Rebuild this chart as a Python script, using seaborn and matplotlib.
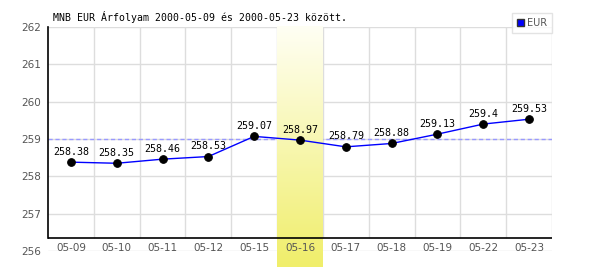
import numpy as np
import matplotlib
matplotlib.use("Agg")
import matplotlib.pyplot as plt
import seaborn as sns
from matplotlib.patches import Patch
from matplotlib.colors import LinearSegmentedColormap

dates = ["05-09", "05-10", "05-11", "05-12", "05-15", "05-16",
         "05-17", "05-18", "05-19", "05-22", "05-23"]
rates = [258.38, 258.35, 258.46, 258.53, 259.07, 258.97,
         258.79, 258.88, 259.13, 259.4, 259.53]
yticks = [256, 257, 258, 259, 260, 261, 262]
title = "MNB EUR Árfolyam 2000-05-09 és 2000-05-23 között."
highlight = "05-16"
ref_level = 259
series_name = "EUR"

sns.set_style("white")
fig = plt.figure(figsize=(6, 2.7), dpi=100)
ax = fig.add_axes([48/600, 1-251/270, 504/600, 224/270])
ax.set_axisbelow(False)
n = len(dates)
xs = np.arange(n)
axis_y = 256.35

grid_c = "#dddddd"
for v in yticks:
    ax.axhline(v, color=grid_c, lw=1, zorder=1)
ax.vlines(np.arange(n) + 0.5, axis_y, 262, color=grid_c, lw=1, zorder=1)

# highlight band
hi = dates.index(highlight)
cmap = LinearSegmentedColormap.from_list("hl", ["#fffff4", "#f0ee6a"])
grad = np.linspace(0, 1, 256).reshape(-1, 1)
ax.imshow(grad, cmap=cmap, aspect="auto", origin="upper",
          extent=(hi - 0.5, hi + 0.5, 255.57, 262), zorder=1.5, clip_on=False)
ax.set_xlim(-0.5, n - 0.5)
ax.set_ylim(256, 262)

ax.axhline(ref_level, color="#9999ff", lw=1, ls=(0, (3, 2)), zorder=1.2)
ax.axhline(axis_y, color="black", lw=1.2, zorder=4)

sns.lineplot(x=xs, y=rates, ax=ax, color="#0000ff", lw=1, zorder=5,
             marker="o", markersize=5.5, markerfacecolor="black",
             markeredgecolor="black")

for x, v in zip(xs, rates):
    ax.annotate(f"{v:g}", (x, v), xytext=(0, 4), textcoords="offset points",
                ha="center", va="bottom", fontsize=7.2,
                family="DejaVu Sans Mono", color="black", zorder=6)

for s in ["top", "right", "bottom"]:
    ax.spines[s].set_visible(False)
ax.spines["left"].set_color("black")
ax.spines["left"].set_linewidth(1.2)
ax.spines["left"].set_bounds(axis_y, 262)

ax.set_yticks(yticks)
ax.set_yticklabels([str(t) for t in yticks])
ax.set_xticks(xs)
ax.set_xticklabels(dates)
ax.tick_params(axis="y", length=0, pad=5, labelsize=7.5, labelcolor="#555555")
ax.tick_params(axis="x", length=0, pad=-6, labelsize=7.5, labelcolor="#555555")
ax.set_xlabel("")
ax.set_ylabel("")

fig.text(53/600, 1-17/270, title, family="DejaVu Sans Mono", fontsize=7.1,
         va="center", ha="left", color="black")

leg = fig.legend(handles=[Patch(facecolor="#0000ff", edgecolor="#333333",
                                label=series_name)],
                 loc="upper right", bbox_to_anchor=(552/600, 1-13/270),
                 fontsize=7, frameon=True, fancybox=False, handlelength=0.7,
                 handleheight=0.7, handletextpad=0.3, borderpad=0.5,
                 borderaxespad=0)
leg.get_frame().set_edgecolor("#dddddd")
leg.get_frame().set_linewidth(1)
for t in leg.get_texts():
    t.set_color("#555555")

fig.savefig("out.png", dpi=100)
